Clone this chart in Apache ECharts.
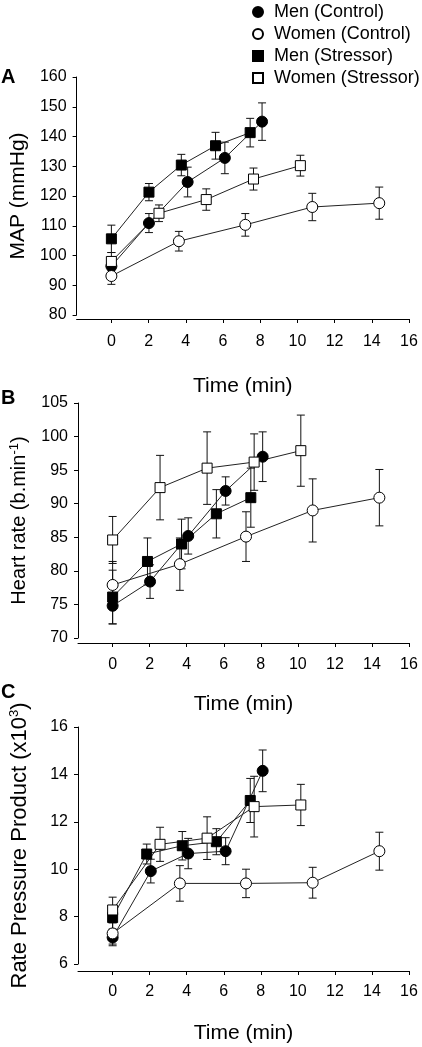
<!DOCTYPE html>
<html>
<head>
<meta charset="utf-8">
<script src="https://cdn.jsdelivr.net/npm/echarts@6/dist/echarts.min.js"></script>
<style>html,body{margin:0;padding:0;background:#fff}#c{width:422px;height:1047px}</style>
</head>
<body>
<div id="c"></div>
<script>
// ---- Data ----
const groups = ['Men (Control)', 'Women (Control)', 'Men (Stressor)', 'Women (Stressor)'];
const xTickValues = [0, 2, 4, 6, 8, 10, 12, 14, 16];

// Panel A: MAP (mmHg)
const mapTimeMC = [0, 2.02, 4.1, 6.1, 8.1];
const mapMC     = [96.4, 110.9, 124.7, 132.8, 145.0];
const mapErrMC  = [2.5, 3.2, 5.0, 5.3, 6.3];
const mapTimeWC = [0, 3.63, 7.2, 10.8, 14.4];
const mapWC     = [93.1, 104.8, 110.3, 116.3, 117.6];
const mapErrWC  = [2.8, 3.3, 3.8, 4.6, 5.4];
const mapTimeMS = [0, 2.02, 3.76, 5.6, 7.46];
const mapMS     = [105.6, 121.3, 130.4, 136.9, 141.3];
const mapErrMS  = [4.6, 2.9, 3.6, 4.5, 4.8];
const mapTimeWS = [0, 2.56, 5.1, 7.64, 10.16];
const mapWS     = [98.0, 114.2, 118.8, 125.7, 130.2];
const mapErrWS  = [3.0, 2.8, 3.6, 3.7, 3.5];

// Panel B: Heart rate (b.min-1)
const hrTimeMC = [0, 2.02, 4.08, 6.1, 8.1];
const hrMC     = [74.8, 78.4, 85.2, 91.9, 97.0];
const hrErrMC  = [2.7, 2.5, 2.7, 2.1, 3.7];
const hrTimeWC = [0, 3.63, 7.2, 10.8, 14.4];
const hrWC     = [77.9, 81.0, 85.1, 89.0, 90.9];
const hrErrWC  = [3.5, 3.9, 3.7, 4.7, 4.2];
const hrTimeMS = [0, 1.88, 3.72, 5.6, 7.46];
const hrMS     = [76.1, 81.4, 84.0, 88.5, 90.9];
const hrErrMS  = [4.0, 3.5, 3.7, 3.6, 4.4];
const hrTimeWS = [0, 2.56, 5.1, 7.64, 10.16];
const hrWS     = [84.6, 92.4, 95.3, 96.2, 97.9];
const hrErrWS  = [3.5, 4.8, 5.4, 4.2, 5.3];

// Panel C: Rate Pressure Product (x10^3)
const rppTimeMC = [0, 2.06, 4.08, 6.1, 8.1];
const rppMC     = [7.12, 9.92, 10.66, 10.76, 14.15];
const rppErrMC  = [0.35, 0.5, 0.64, 0.57, 0.88];
const rppTimeWC = [0, 3.63, 7.2, 10.8, 14.4];
const rppWC     = [7.29, 9.40, 9.40, 9.43, 10.76];
const rppErrWC  = [0.45, 0.75, 0.6, 0.65, 0.8];
const rppTimeMS = [0, 1.84, 3.76, 5.6, 7.43];
const rppMS     = [7.96, 10.64, 10.99, 11.16, 12.90];
const rppErrMS  = [0.5, 0.42, 0.6, 0.55, 0.93];
const rppTimeWS = [0, 2.56, 5.1, 7.64, 10.16];
const rppWS     = [8.28, 11.05, 11.31, 12.64, 12.71];
const rppErrWS  = [0.54, 0.72, 0.9, 1.28, 0.87];

// ---- Build ----
const FONT = "'Liberation Sans', Arial, sans-serif";
const panels = [
  { times: [mapTimeMC, mapTimeWC, mapTimeMS, mapTimeWS], vals: [mapMC, mapWC, mapMS, mapWS], errs: [mapErrMC, mapErrWC, mapErrMS, mapErrWS] },
  { times: [hrTimeMC, hrTimeWC, hrTimeMS, hrTimeWS], vals: [hrMC, hrWC, hrMS, hrWS], errs: [hrErrMC, hrErrWC, hrErrMS, hrErrWS] },
  { times: [rppTimeMC, rppTimeWC, rppTimeMS, rppTimeWS], vals: [rppMC, rppWC, rppMS, rppWS], errs: [rppErrMC, rppErrWC, rppErrMS, rppErrWS] }
];

const styles = [
  { symbol: 'circle', size: 11, color: '#000' },
  { symbol: 'circle', size: 11, color: '#fff' },
  { symbol: 'rect', size: 10, color: '#000' },
  { symbol: 'rect', size: 10, color: '#fff' }
];

const grids = [
  { left: 76, width: 333, top: 77, height: 238 },
  { left: 76, width: 333, top: 403, height: 235 },
  { left: 76, width: 333, top: 727, height: 237 }
];
const xOffsets = [4, 5, 7];
const xLabelMargins = [15, 14, 13];
const xNameGaps = [57, 51, 52];
const yCfg = [
  { min: 80, max: 160, interval: 10, name: 'MAP (mmHg)', nameGap: 47, fontSize: 21 },
  { min: 70, max: 105, interval: 5, name: '{a|Heart rate (b.min}{s|-1}{a|)}', nameGap: 47, fontSize: 20 },
  { min: 6, max: 16, interval: 2, name: '{a|Rate Pressure Product (x10}{s|3}{a|)}', nameGap: 47, fontSize: 22 }
];

const xAxes = grids.map((g, i) => ({
  type: 'value', gridIndex: i, min: -1.87, max: 16,
  offset: xOffsets[i],
  name: 'Time (min)', nameLocation: 'middle', nameGap: xNameGaps[i],
  nameTextStyle: { fontSize: 21, fontWeight: 'normal', color: '#000', fontFamily: FONT },
  axisLine: { show: true, onZero: false, lineStyle: { color: '#000', width: 1 } },
  axisTick: { show: true, length: 4, customValues: xTickValues, lineStyle: { color: '#000' } },
  axisLabel: { customValues: xTickValues, fontSize: 16, color: '#000', fontFamily: FONT, margin: xLabelMargins[i] },
  splitLine: { show: false }
}));

const yAxes = yCfg.map((c, i) => ({
  type: 'value', gridIndex: i, min: c.min, max: c.max, interval: c.interval,
  name: c.name, nameLocation: 'middle', nameGap: c.nameGap, nameRotate: 90,
  nameTextStyle: {
    fontSize: c.fontSize, fontWeight: 'normal', color: '#000', fontFamily: FONT,
    rich: {
      a: { fontSize: c.fontSize, fontWeight: 'normal', color: '#000', fontFamily: FONT },
      s: { fontSize: 13, fontWeight: 'normal', color: '#000', fontFamily: FONT, verticalAlign: 'top', padding: [0, 0, 10, 0] }
    }
  },
  axisLine: { show: true, onZero: false, lineStyle: { color: '#000', width: 1 } },
  axisTick: { show: true, length: 4, lineStyle: { color: '#000' } },
  axisLabel: { fontSize: 16, color: '#000', fontFamily: FONT, margin: 10 },
  splitLine: { show: false }
}));

const series = [];
panels.forEach((p, pi) => {
  // error bars
  p.times.forEach((t, gi) => {
    series.push({
      type: 'custom', name: 'err' + pi + '_' + gi, xAxisIndex: pi, yAxisIndex: pi, z: 1,
      data: t.map((x, k) => [x, p.vals[gi][k] - p.errs[gi][k], p.vals[gi][k] + p.errs[gi][k]]),
      encode: { x: 0, y: [1, 2] },
      silent: true,
      renderItem: function (params, api) {
        const x = api.value(0);
        const lo = api.coord([x, api.value(1)]);
        const hi = api.coord([x, api.value(2)]);
        const hw = 4;
        const st = { stroke: '#111', lineWidth: 1 };
        return {
          type: 'group',
          children: [
            { type: 'line', shape: { x1: lo[0], y1: lo[1], x2: hi[0], y2: hi[1] }, style: st },
            { type: 'line', shape: { x1: hi[0] - hw, y1: hi[1], x2: hi[0] + hw, y2: hi[1] }, style: st },
            { type: 'line', shape: { x1: lo[0] - hw, y1: lo[1], x2: lo[0] + hw, y2: lo[1] }, style: st }
          ]
        };
      }
    });
  });
  // lines + markers
  p.times.forEach((t, gi) => {
    const s = styles[gi];
    series.push({
      type: 'line', name: groups[gi], xAxisIndex: pi, yAxisIndex: pi, z: 3,
      data: t.map((x, k) => [x, p.vals[gi][k]]),
      symbol: s.symbol, symbolSize: s.size, showAllSymbol: true,
      lineStyle: { color: '#222', width: 1 },
      itemStyle: { color: s.color, borderColor: '#000', borderWidth: 1, opacity: 1 },
      emphasis: { disabled: true }
    });
  });
});

const chart = echarts.init(document.getElementById('c'), null, { renderer: 'canvas' });
chart.setOption({
  animation: false,
  backgroundColor: '#fff',
  textStyle: { fontFamily: FONT },
  legend: {
    orient: 'vertical', left: 247, top: -4,
    itemWidth: 10, itemHeight: 10, itemGap: 0,
    textStyle: { fontSize: 18, lineHeight: 22, color: '#000', fontFamily: FONT, padding: [0, 0, 0, 6] },
    data: groups.map((g, i) => ({ name: g, icon: styles[i].symbol })),
    selectedMode: false
  },
  grid: grids,
  xAxis: xAxes,
  yAxis: yAxes,
  series: series,
  graphic: [
    { type: 'text', left: 1, top: 67, style: { text: 'A', fontSize: 20, fontWeight: 'bold', fill: '#000', fontFamily: FONT } },
    { type: 'text', left: 1, top: 388, style: { text: 'B', fontSize: 20, fontWeight: 'bold', fill: '#000', fontFamily: FONT } },
    { type: 'text', left: 1, top: 682, style: { text: 'C', fontSize: 20, fontWeight: 'bold', fill: '#000', fontFamily: FONT } }
  ]
});
</script>
</body>
</html>
